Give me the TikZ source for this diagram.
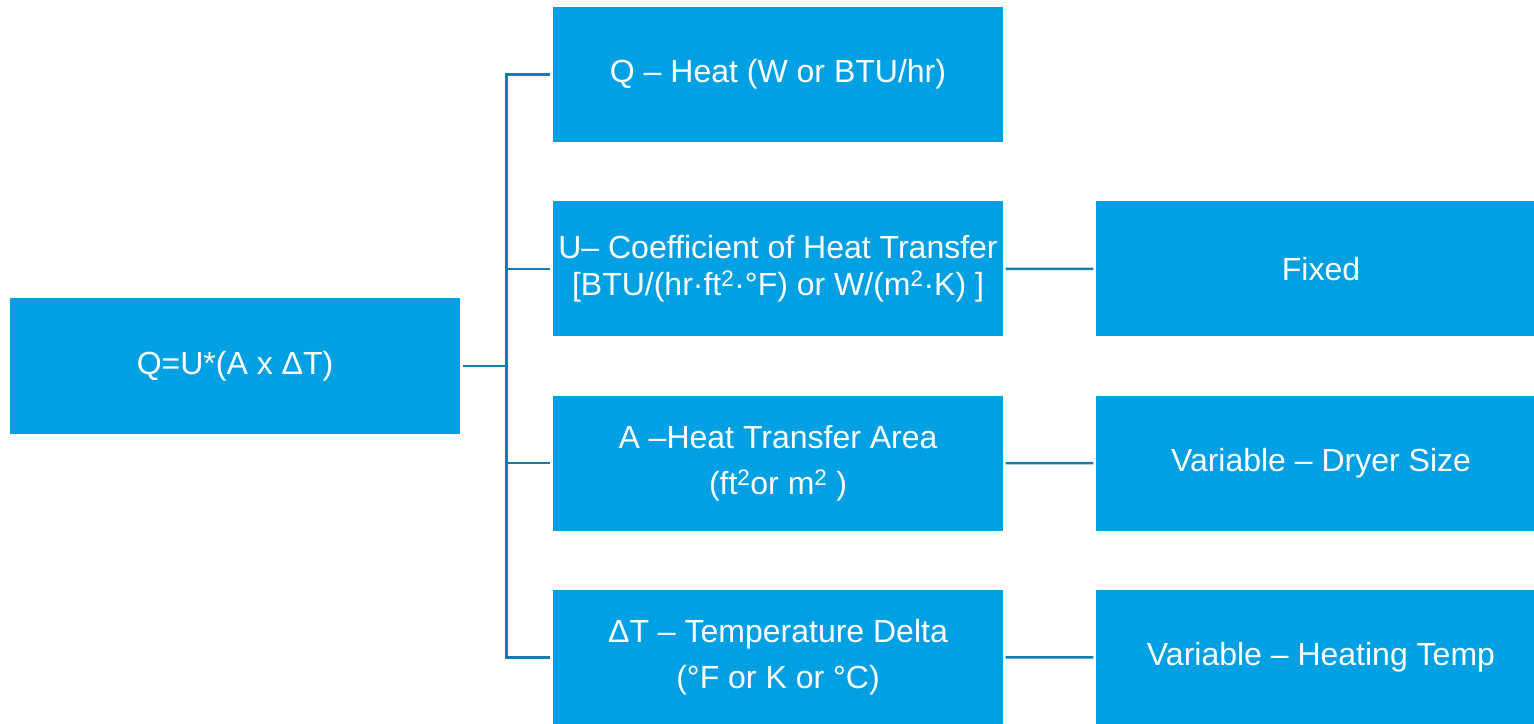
\documentclass[tikz,border=0pt]{standalone}
\usepackage{fontspec}
\setmainfont{Liberation Sans}
\definecolor{boxblue}{RGB}{0,160,227}
\definecolor{linkblue}{RGB}{22,124,176}

\begin{document}
\begin{tikzpicture}[
        x=1pt, y=1pt,
        grow'=right,
        level 1/.style={sibling distance=194.3pt, level distance=543pt,
            edge from parent path={([xshift=3pt]\tikzparentnode.east) -- ++(43pt,0) |- ([xshift=-3pt]\tikzchildnode.west)}},
        level 2/.style={level distance=543pt,
            edge from parent path={([xshift=2.5pt]\tikzparentnode.east) -- ([xshift=-2.5pt]\tikzchildnode.west)}},
        edge from parent/.style={draw, linkblue, line width=2.6pt},
        box_node/.style={rectangle, fill=boxblue, text=white, align=center, inner sep=0pt,
            minimum width=450pt, minimum height=135pt, font=\fontsize{32}{46}\selectfont},
        formula_node/.style={box_node, minimum width=450.5pt, minimum height=136pt},
        term_node/.style={box_node},
        value_node/.style={box_node}
    ]
        \useasboundingbox (0,0) rectangle (1534,723);
        % Rovnice
        \node[formula_node] (eq) at (235,357) {Q=U*(A x ΔT)}
            % Teplo
            child { node[term_node] (heat) {Q – Heat (W or BTU/hr)} }
            % Koeficient
            child { node[term_node, font=\fontsize{32}{37}\selectfont] (coef) {U– Coefficient of Heat Transfer\\{}[BTU/(hr·ft\textsuperscript{2}·°F) or W/(m\textsuperscript{2}·K) ]}
                child { node[value_node] (fixed) {Fixed} }
            }
            % Plocha
            child { node[term_node] (area) {A –Heat Transfer Area\\(ft\textsuperscript{2}or m\textsuperscript{2} )}
                child { node[value_node] (size) {Variable – Dryer Size} }
            }
            % Rozdil teplot
            child { node[term_node] (delta) {ΔT – Temperature Delta\\(°F or K or °C)}
                child { node[value_node] (temp) {Variable – Heating Temp} }
            };
\end{tikzpicture}
\end{document}
